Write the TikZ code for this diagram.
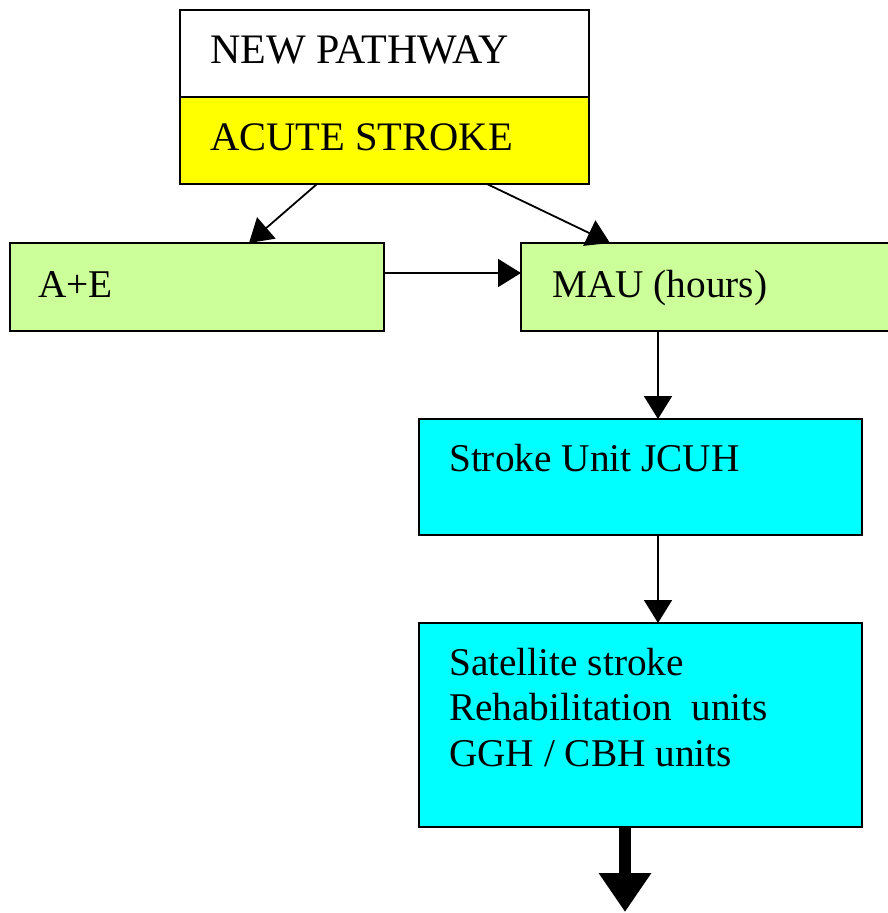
\documentclass[tikz,border=0pt]{standalone}
\usepackage{fontspec}
\setmainfont{Liberation Serif}
\usetikzlibrary{arrows.meta,calc}
\definecolor{lgreen}{HTML}{CCFF99}
\definecolor{cyanbox}{HTML}{00FFFF}
\definecolor{ybox}{HTML}{FFFF00}
\begin{document}
\begin{tikzpicture}[x=1pt,y=-1pt,
  box/.style={draw=black,line width=1.9pt,rectangle,anchor=north west,inner sep=0pt,outer sep=0pt},
  lbl/.style={anchor=base west,inner sep=0pt,font=\fontsize{39.3}{45}\selectfont},
  toplbl/.style={lbl,font=\fontsize{40.5}{45}\selectfont},
  conn/.style={line width=1.8pt,-{Triangle[length=23pt,width=28pt]}},
  bigconn/.style={line width=12pt,-{Triangle[length=39pt,width=50pt]}}]
\useasboundingbox (0,0) rectangle (888,913);
\fill[white] (0,0) rectangle (888,913);
% boxes
\node[box,fill=white,minimum width=409pt,minimum height=87pt] (np) at (180,10) {};
\node[box,fill=ybox,minimum width=409pt,minimum height=87pt] (as) at (180,97) {};
\node[box,fill=lgreen,minimum width=374pt,minimum height=88pt] (ae) at (10,243) {};
\node[box,fill=lgreen,minimum width=380pt,minimum height=88pt] (mau) at (521,243) {};
\node[box,fill=cyanbox,minimum width=443pt,minimum height=116pt] (su) at (419,419) {};
\node[box,fill=cyanbox,minimum width=443pt,minimum height=204pt] (sat) at (419,623) {};
% labels
\node[lbl,font=\fontsize{42}{45}\selectfont] (tnp) at (210,63) {NEW PATHWAY};
\node[toplbl] (tas) at (210,150) {ACUTE STROKE};
\node[lbl] (tae) at (38,297) {A+E};
\node[lbl] (tmau) at (552,297) {MAU (hours)};
\node[lbl] (tsu) at (449,471) {Stroke Unit JCUH};
\node[lbl] (ts1) at (449,675) {Satellite stroke};
\node[lbl] (ts2) at (449,720) {Rehabilitation\ \ units};
\node[lbl] (ts3) at (449,766) {GGH / CBH units};
% connectors
\draw[conn] ($(as.south west)+(137,0)$) -- ($(ae.north west)+(239,0)$);
\draw[conn] ($(as.south west)+(307,0)$) -- ($(mau.north west)+(89,0)$);
\draw[conn] ($(ae.north east)+(0,30)$) -- ($(mau.north west)+(0,30)$);
\draw[conn] ($(mau.south west)+(137,0)$) -- ($(su.north west)+(239,0)$);
\draw[conn] ($(su.south west)+(239,0)$) -- ($(sat.north west)+(239,0)$);
\coordinate (out) at (625,912);
\draw[bigconn] (sat.south west -| out) -- (out);
\end{tikzpicture}
\end{document}
